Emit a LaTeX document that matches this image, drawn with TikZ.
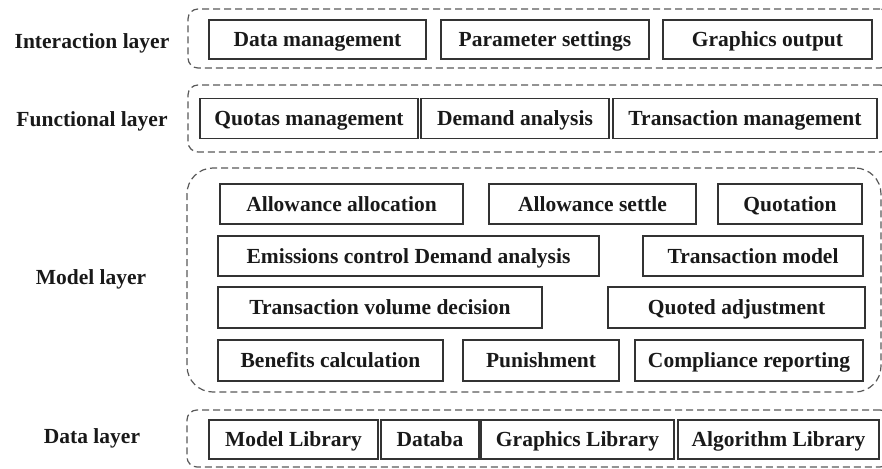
\documentclass[tikz,border=0pt]{standalone}
\usepackage{fontspec}
\setmainfont{Liberation Serif}
\begin{document}
\begin{tikzpicture}[x=1pt,y=-1pt,
  every node/.style={font=\fontsize{21.5}{24}\selectfont\bfseries, text=black!90},
  box/.style={draw=black!80, line width=1.4pt, rectangle, inner sep=0pt, text height=14pt, text depth=0pt},
  layer/.style={draw=black!65, line width=1.2pt, dash pattern=on 7pt off 4pt, rectangle, inner sep=0pt},
  lbl/.style={inner sep=0pt, text height=14pt, text depth=0pt}]
\useasboundingbox (0,0) rectangle (882,468);
% containers
\node[layer, rounded corners=10pt, minimum width=702pt, minimum height=59pt] (cint) at (539,38.5) {};
\node[layer, rounded corners=10pt, minimum width=702pt, minimum height=67pt] (cfun) at (539,118.5) {};
\node[layer, rounded corners=26pt, minimum width=694pt, minimum height=224pt] (cmod) at (534,280) {};
\node[layer, rounded corners=10pt, minimum width=703pt, minimum height=57pt] (cdat) at (538.5,438.5) {};
% layer labels
\node[lbl] (lint) at (92,42) {Interaction layer};
\node[lbl] (lfun) at (92,119) {Functional layer};
\node[lbl] (lmod) at (91,277) {Model layer};
\node[lbl] (ldat) at (92,436) {Data layer};
% interaction layer
\node[box, minimum width=217pt, minimum height=39pt] (dm) at (317.5,39.5) {Data management};
\node[box, minimum width=208pt, minimum height=39pt] (ps) at (545,39.5) {Parameter settings};
\node[box, minimum width=209pt, minimum height=39pt] (go) at (767.5,39.5) {Graphics output};
% functional layer
\node[box, minimum width=218pt, minimum height=40pt] (qm) at (309,118.5) {Quotas management};
\node[box, minimum width=188pt, minimum height=40pt] (da) at (515,118.5) {Demand analysis};
\node[box, minimum width=264pt, minimum height=40pt] (tm) at (745,118.5) {Transaction management};
% model layer
\node[box, minimum width=243pt, minimum height=40pt] (aa) at (341.5,204) {Allowance allocation};
\node[box, minimum width=207pt, minimum height=40pt] (as) at (592.5,204) {Allowance settle};
\node[box, minimum width=144pt, minimum height=40pt] (qu) at (790,204) {Quotation};
\node[box, minimum width=381pt, minimum height=40pt] (ec) at (408.5,256) {Emissions control Demand analysis};
\node[box, minimum width=220pt, minimum height=40pt] (tmo) at (753,256) {Transaction model};
\node[box, minimum width=324pt, minimum height=41pt] (tv) at (380,307.5) {Transaction volume decision};
\node[box, minimum width=257pt, minimum height=41pt] (qa) at (736.5,307.5) {Quoted adjustment};
\node[box, minimum width=225pt, minimum height=41pt] (bc) at (330.5,360.5) {Benefits calculation};
\node[box, minimum width=156pt, minimum height=41pt] (pu) at (541,360.5) {Punishment};
\node[box, minimum width=228pt, minimum height=41pt] (cr) at (749,360.5) {Compliance reporting};
% data layer
\node[box, minimum width=169pt, minimum height=39pt] (ml) at (293.5,439.5) {Model Library};
\node[box, minimum width=98pt, minimum height=39pt] (db) at (430,439.5) {Databa};
\node[box, minimum width=193pt, minimum height=39pt] (gl) at (577.5,439.5) {Graphics Library};
\node[box, minimum width=201pt, minimum height=39pt] (al) at (778.5,439.5) {Algorithm Library};
\end{tikzpicture}
\end{document}
